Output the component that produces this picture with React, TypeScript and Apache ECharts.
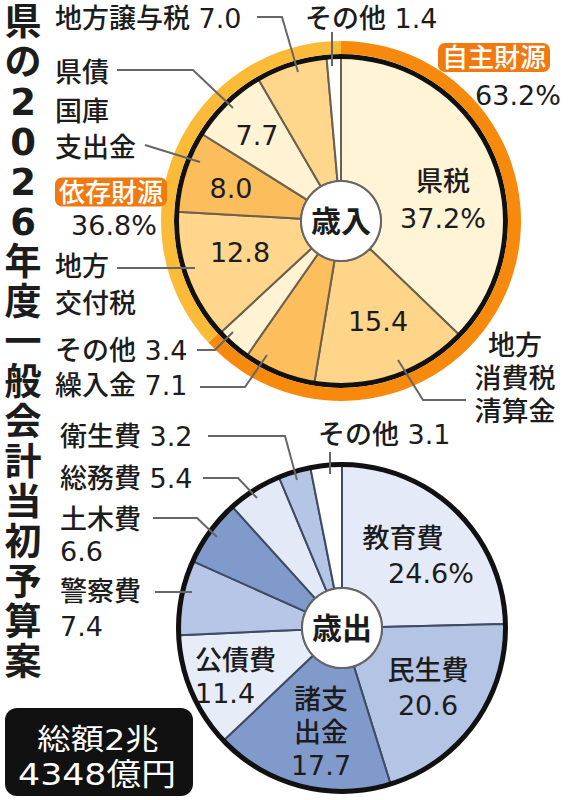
import React, { useEffect, useRef } from 'react';
import * as echarts from 'echarts';

// ---------- data ----------
const titleText = '県の2026年度一般会計当初予算案';
const totalLines = ['総額2兆', '4348億円'];

const revenueCenterLabel = '歳入';
const revenueCategories = ['県税', '地方消費税清算金', '繰入金', 'その他', '地方交付税', '国庫支出金', '県債', '地方譲与税', 'その他'];
const revenueValues = [37.2, 15.4, 7.1, 3.4, 12.8, 8.0, 7.7, 7.0, 1.4];
const revenueGroupNames = ['自主財源', '依存財源'];
const revenueGroupValues = [63.2, 36.8];

const expenditureCenterLabel = '歳出';
const expenditureCategories = ['教育費', '民生費', '諸支出金', '公債費', '警察費', '土木費', '総務費', '衛生費', 'その他'];
const expenditureValues = [24.6, 20.6, 17.7, 11.4, 7.4, 6.6, 5.4, 3.2, 3.1];

// ---------- styles / layout ----------
const FONT = '"DejaVu Sans", "Noto Sans CJK JP", sans-serif';
const TEXT = '#1c1c1c';
const FS = 27;

const revColors = ['#fff4d6', '#ffd58a', '#fdbf5d', '#fff3d3', '#ffd68b', '#fcbd5c', '#fff3d3', '#ffd78c', '#ffffff'];
const revGroupColors = ['#f78a0c', '#fbbb38'];
const expColors = ['#e4eaf7', '#b4c4e5', '#809acc', '#e6ecf8', '#b7c6e7', '#809acc', '#e3e9f6', '#b5c5e6', '#ffffff'];

const breakMap: Record<string, string> = {
  '地方消費税清算金': '地方\n消費税\n清算金',
  '地方交付税': '地方\n交付税',
  '国庫支出金': '国庫\n支出金',
  '諸支出金': '諸支\n出金',
};

type Mode = 'v' | 'n' | 'n v' | 'n\nv';
type Pos = {
  x: number; y: number; mode: Mode; align?: 'left' | 'center' | 'right';
  lh?: number; pct?: boolean; shift?: number; line?: number[][];
};

const REV_C = [341, 221];
const EXP_C = [342, 628];

const revInside: (Pos | null)[] = [
  { x: 443, y: 200, mode: 'n\nv', pct: true, lh: 37 },
  { x: 378, y: 321, mode: 'v' },
  null,
  null,
  { x: 240, y: 252, mode: 'v' },
  { x: 231, y: 188, mode: 'v' },
  { x: 257, y: 135, mode: 'v' },
  null,
  null,
];
const revOutside: (Pos | null)[] = [
  null,
  { x: 515, y: 378, mode: 'n', align: 'center', lh: 33, line: [[398, 360], [423, 400], [466, 400]] },
  { x: 55, y: 385, mode: 'n v', line: [[200, 387], [245, 387], [267, 355]] },
  { x: 55, y: 350, mode: 'n v', line: [[197, 350], [215, 350], [233, 332]] },
  { x: 55, y: 285, mode: 'n', lh: 37, line: [[117, 268], [195, 268]] },
  { x: 55, y: 129, mode: 'n', lh: 36, line: [[145, 145], [200, 162]] },
  { x: 55, y: 72, mode: 'n', line: [[117, 70], [193, 70], [233, 108]] },
  { x: 55, y: 18, mode: 'n v', line: [[257, 17], [282, 17], [298, 72]] },
  { x: 305, y: 18, mode: 'n v', line: [[332, 32], [332, 66]] },
];
const revGroupPos = [
  { x: 494, y: 77, lh: 39, shift: 24 },
  { x: 111, y: 209, lh: 34, shift: 3 },
];

const expInside: (Pos | null)[] = [
  { x: 403, y: 556, mode: 'n\nv', pct: true, lh: 35, shift: 28 },
  { x: 428, y: 688, mode: 'n\nv', lh: 35 },
  { x: 321, y: 732, mode: 'n\nv', lh: 33 },
  { x: 195, y: 677, mode: 'n\nv', lh: 33, align: 'left' },
  null, null, null, null, null,
];
const expOutside: (Pos | null)[] = [
  null, null, null, null,
  { x: 60, y: 609, mode: 'n\nv', lh: 35, line: [[155, 592], [192, 592]] },
  { x: 60, y: 535, mode: 'n\nv', lh: 32, line: [[153, 518], [197, 518], [217, 537]] },
  { x: 60, y: 478, mode: 'n v', line: [[203, 478], [238, 478], [257, 498]] },
  { x: 60, y: 436, mode: 'n v', line: [[208, 436], [285, 436], [297, 480]] },
  { x: 318, y: 434, mode: 'n v', line: [[330, 452], [330, 474]] },
];

function labelString(pos: Pos | null, name: string, value: number): string {
  if (!pos) return '';
  const v = value.toFixed(1) + (pos.pct ? '%' : '');
  const n = breakMap[name] ?? name;
  switch (pos.mode) {
    case 'v': return v;
    case 'n': return n;
    case 'n v': return name + ' ' + v;
    case 'n\nv':
      if (pos.shift) return '{a|' + n + '}\n{b|' + v + '}';
      return n + '\n' + v;
  }
  return '';
}

const outLabel = {
  color: TEXT,
  fontSize: FS,
  fontFamily: FONT,
  fontWeight: 500,
};
const inLabel = { ...outLabel };

function richFor(lh: number, shift: number) {
  return {
    a: { ...inLabel, lineHeight: lh },
    b: { ...inLabel, lineHeight: lh, padding: [0, 0, 0, shift * 2] },
  };
}

function pieGroup(opts: {
  id: string; center: number[]; r: number; names: string[]; values: number[]; colors: string[];
  inside: (Pos | null)[]; outside: (Pos | null)[]; sepColor: string; centerLabel: string;
}) {
  const { id, center, r, names, values, colors, inside, outside, sepColor, centerLabel } = opts;
  const main = {
    type: 'pie', id: id + 'Main', center, radius: [40, r], startAngle: 90, clockwise: true,
    silent: true, avoidLabelOverlap: false,
    itemStyle: { borderColor: sepColor, borderWidth: 2 },
    label: { show: true, position: 'inside', overflow: 'none', ...inLabel },
    labelLine: { show: false },
    labelLayout: (p: any) => {
      const L = inside[p.dataIndex];
      if (!L) return {};
      return { x: L.x, y: L.y, align: L.align ?? 'center', verticalAlign: 'middle' };
    },
    data: names.map((name, i) => {
      const L = inside[i];
      return {
        name, value: values[i],
        itemStyle: { color: colors[i] },
        label: L
          ? {
              show: true,
              formatter: labelString(L, name, values[i]),
              lineHeight: L.lh ?? FS,
              rich: L.shift ? richFor(L.lh ?? FS, L.shift) : undefined,
            }
          : { show: false },
      };
    }),
  };
  const ring = {
    type: 'pie', id: id + 'Ring', center, radius: [r - 2, r + 3], startAngle: 90, silent: true,
    label: { show: false }, labelLine: { show: false },
    itemStyle: { color: '#111', borderWidth: 0 },
    data: [{ value: 1, name: '' }],
  };
  const hub = {
    type: 'pie', id: id + 'Hub', center, radius: [0, 40], silent: true,
    itemStyle: { color: '#fff', borderColor: '#666', borderWidth: 2 },
    label: {
      show: true, position: 'center', formatter: centerLabel,
      color: TEXT, fontFamily: FONT, fontSize: 30, fontWeight: 'bold',
    },
    labelLine: { show: false },
    data: [{ value: 1, name: centerLabel }],
  };
  const over = {
    type: 'pie', id: id + 'Over', z: 10, center, radius: [40, r], startAngle: 90, clockwise: true,
    silent: true, avoidLabelOverlap: false,
    itemStyle: { color: 'rgba(0,0,0,0)', borderWidth: 0 },
    label: { show: true, position: 'outside', overflow: 'none', ...outLabel },
    labelLine: { show: true, length: 8, length2: 8, smooth: false, lineStyle: { color: '#666', width: 2 } },
    labelLayout: (p: any) => {
      const L = outside[p.dataIndex];
      if (!L) return {};
      return {
        x: L.x, y: L.y, align: L.align ?? 'left', verticalAlign: 'middle',
        labelLinePoints: L.line,
      };
    },
    data: names.map((name, i) => {
      const L = outside[i];
      return {
        name, value: values[i],
        itemStyle: { color: 'rgba(0,0,0,0)' },
        label: L
          ? { show: true, formatter: labelString(L, name, values[i]), lineHeight: L.lh ?? FS }
          : { show: false },
        labelLine: { show: !!L },
      };
    }),
  };
  return [main, ring, hub, over];
}

function buildOption() {
  const revSeries = pieGroup({
    id: 'rev', center: REV_C, r: 164, names: revenueCategories, values: revenueValues,
    colors: revColors, inside: revInside, outside: revOutside, sepColor: '#6d604c',
    centerLabel: revenueCenterLabel,
  });
  const expSeries = pieGroup({
    id: 'exp', center: EXP_C, r: 163, names: expenditureCategories, values: expenditureValues,
    colors: expColors, inside: expInside, outside: expOutside, sepColor: '#3f4b64',
    centerLabel: expenditureCenterLabel,
  });
  const groupRing = {
    type: 'pie', id: 'revGroup', center: REV_C, radius: [167, 180], startAngle: 90, silent: true,
    avoidLabelOverlap: false,
    label: { show: true, position: 'outside', overflow: 'none', ...outLabel },
    labelLine: { show: false },
    labelLayout: (p: any) => {
      const P = revGroupPos[p.dataIndex];
      return { x: P.x, y: P.y, align: 'center', verticalAlign: 'middle' };
    },
    data: revenueGroupNames.map((name, i) => {
      const P = revGroupPos[i];
      return {
        name, value: revenueGroupValues[i],
        itemStyle: { color: revGroupColors[i] },
        label: {
          formatter: '{t|' + name + '}\n{p|' + revenueGroupValues[i].toFixed(1) + '%}',
          rich: {
            t: {
              fontFamily: FONT, fontSize: 26, fontWeight: 500, color: '#fff', backgroundColor: '#f07a12',
              borderRadius: 7, padding: [2, 4, 1, 4], lineHeight: P.lh - 6,
            },
            p: { ...outLabel, lineHeight: P.lh, padding: [4, 0, 0, P.shift * 2] },
          },
        },
      };
    }),
  };

  const titleChars = Array.from(titleText).join('\n');

  return {
    animation: false,
    backgroundColor: '#ffffff',
    series: [...revSeries, groupRing, ...expSeries],
    graphic: [
      {
        type: 'text', x: 23, y: 2, silent: true,
        style: {
          text: titleChars, fontFamily: FONT, fontSize: 37, fontWeight: 'bold', lineHeight: 40,
          fill: TEXT, align: 'center', verticalAlign: 'top',
        },
      },
      {
        type: 'rect', silent: true,
        shape: { x: 5, y: 708, width: 188, height: 88, r: 12 },
        style: { fill: '#111' },
      },
      {
        type: 'text', x: 98, y: 740, scaleX: 1.15, silent: true,
        style: {
          text: totalLines[0], fontFamily: FONT, fontSize: 29, fill: '#fff',
          align: 'center', verticalAlign: 'middle',
        },
      },
      {
        type: 'text', x: 97, y: 774, scaleX: 1.12, silent: true,
        style: {
          text: totalLines[1], fontFamily: FONT, fontSize: 31, fill: '#fff',
          align: 'center', verticalAlign: 'middle',
        },
      },
    ],
  };
}

export default function App() {
  const ref = useRef<HTMLDivElement>(null);
  useEffect(() => {
    if (!ref.current) return;
    const chart = echarts.init(ref.current, undefined, { renderer: 'svg' });
    chart.setOption(buildOption() as any);
    return () => chart.dispose();
  }, []);
  return (
    <div
      ref={ref}
      style={{ position: 'fixed', left: 0, top: 0, width: 570, height: 800, background: '#fff' }}
    />
  );
}
